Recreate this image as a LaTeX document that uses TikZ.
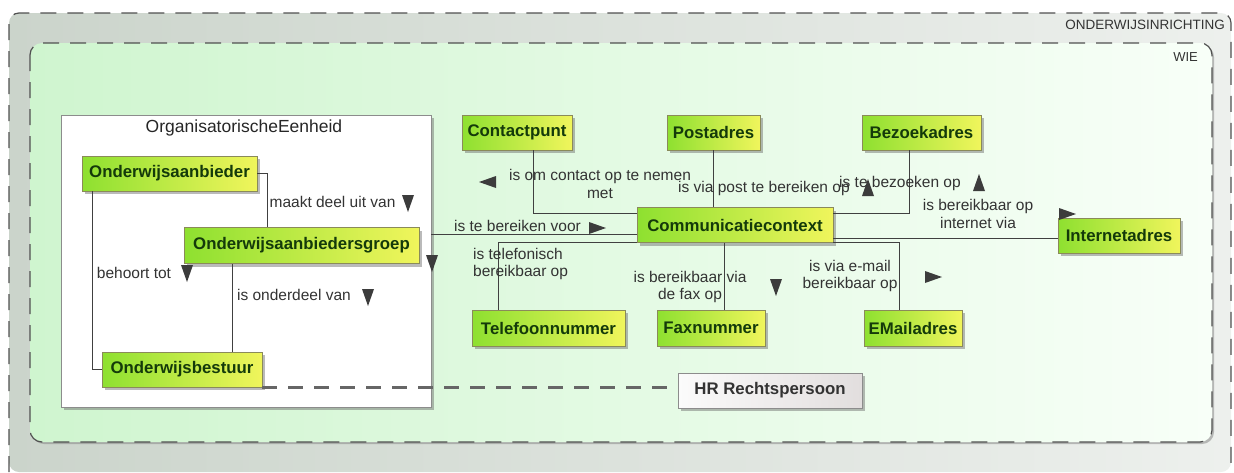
\documentclass[tikz,border=0pt]{standalone}
\usepackage{fontspec}
\setmainfont{Liberation Sans}
\usetikzlibrary{shadows}
\definecolor{boxL}{HTML}{8EE030}
\definecolor{boxR}{HTML}{F0F55C}
\definecolor{boxedge}{HTML}{8A8A5A}
\definecolor{boxtxt}{HTML}{143A0A}
\definecolor{lbltxt}{HTML}{333333}
\definecolor{lncol}{HTML}{404040}
\definecolor{tricol}{HTML}{3C3C3C}
\definecolor{outerL}{HTML}{CBD4CB}
\definecolor{outerR}{HTML}{EDF0ED}
\definecolor{innerL}{HTML}{CFF5CF}
\definecolor{innerR}{HTML}{F8FFF8}
\definecolor{framecol}{HTML}{505050}
\definecolor{hrL}{HTML}{FBFBFB}
\definecolor{hrR}{HTML}{E2DEDE}
\tikzset{
  cls/.style={draw=boxedge, line width=0.6pt, left color=boxL, right color=boxR,
    text=boxtxt, font=\fontsize{16.8}{19}\selectfont\bfseries, inner sep=0pt,
    drop shadow={shadow xshift=3pt, shadow yshift=-3pt, opacity=0.45, fill=black!60}},
  hrbox/.style={draw=black!45, line width=0.6pt, left color=hrL, right color=hrR,
    text=lbltxt, font=\fontsize{16.8}{19}\selectfont\bfseries, inner sep=0pt,
    drop shadow={shadow xshift=3pt, shadow yshift=-3pt, opacity=0.45, fill=black!60}},
  lbl/.style={text=lbltxt, font=\fontsize{15.5}{17.5}\selectfont, inner sep=0pt},
  conn/.style={draw=lncol, line width=0.9pt},
  framestyle/.style={draw=framecol, line width=1.2pt, dash pattern=on 16pt off 11pt},
  tdown/.pic={\fill[tricol] (-6,-8) -- (6,-8) -- (0,9) -- cycle;},
  tup/.pic={\fill[tricol] (-6,8) -- (6,8) -- (0,-9) -- cycle;},
  tright/.pic={\fill[tricol] (-8,-6) -- (-8,6) -- (9,0) -- cycle;},
  tleft/.pic={\fill[tricol] (8,-6) -- (8,6) -- (-9,0) -- cycle;},
}
\begin{document}
\begin{tikzpicture}[x=1pt,y=-1pt]
\useasboundingbox (0,0) rectangle (1234,472);
\fill[white] (0,0) rectangle (1234,472);
% outer frame
\path[left color=outerL, right color=outerR, rounded corners=10pt] (9,13) rectangle (1231,472);
\draw[framestyle, rounded corners=10pt] (9,472) -- (9,13) -- (1231,13) -- (1231,472);
\node[lbl, anchor=east, font=\fontsize{13.5}{16}\selectfont] (londer) at (1225,25) {ONDERWIJSINRICHTING};
% inner frame
\path[left color=innerL, right color=innerR, rounded corners=12pt,
  drop shadow={shadow xshift=2pt, shadow yshift=-2pt, opacity=0.5, fill=black!50}] (30,43) rectangle (1212,442);
\draw[framestyle, rounded corners=12pt] (30,43) rectangle (1212,442);
\node[lbl, anchor=east, font=\fontsize{13}{15}\selectfont] (lwie) at (1198,57) {WIE};
% OrganisatorischeEenheid box
\node[draw=black!45, fill=white, line width=0.6pt, minimum width=370pt, minimum height=292pt, inner sep=0pt,
  drop shadow={shadow xshift=3pt, shadow yshift=-3pt, opacity=0.45, fill=black!60}] (OE) at (246,261) {};
\node[lbl, font=\fontsize{17.5}{20}\selectfont, text=black!85] (OEt) at (244,128) {OrganisatorischeEenheid};
% class boxes
\node[cls, minimum width=175pt, minimum height=35pt] (OA) at (169.5,173.5) {Onderwijsaanbieder};
\node[cls, minimum width=235pt, minimum height=36pt] (OAG) at (301.5,245.5) {Onderwijsaanbiedersgroep};
\node[cls, minimum width=160pt, minimum height=35pt] (OB) at (182,369.5) {Onderwijsbestuur};
\node[cls, minimum width=110pt, minimum height=35pt] (CP) at (517,132.5) {Contactpunt};
\node[cls, minimum width=93pt, minimum height=35pt] (PA) at (713.5,132.5) {Postadres};
\node[cls, minimum width=119pt, minimum height=35pt] (BA) at (921.5,132.5) {Bezoekadres};
\node[cls, minimum width=196pt, minimum height=35pt] (CC) at (735,225) {Communicatiecontext};
\node[cls, minimum width=122pt, minimum height=35pt] (IA) at (1119,235.5) {Internetadres};
\node[cls, minimum width=153pt, minimum height=36pt] (TN) at (548.5,328) {Telefoonnummer};
\node[cls, minimum width=108pt, minimum height=36pt] (FN) at (711,328) {Faxnummer};
\node[cls, minimum width=98pt, minimum height=36pt] (EM) at (913,328) {EMailadres};
\node[hrbox, minimum width=184pt, minimum height=35pt] (HR) at (770,390.5) {HR Rechtspersoon};
% connectors
\draw[conn] (OA.east) -| ([xshift=-34.5pt]OAG.north);
\draw[conn] ([xshift=-77.5pt]OA.south) |- (OB.west);
\draw[conn] ([xshift=-69.5pt]OAG.south) -- ([xshift=50pt]OB.north);
\draw[conn] ([yshift=-9pt]CC.west) -- ([yshift=-9pt]CC.west -| OE.east);
\draw[conn] ([xshift=16pt]CP.south) |- ([yshift=12pt]CC.west);
\draw[conn] (PA.south) -- (PA.south |- CC.north);
\draw[conn] ([xshift=-12.5pt]BA.south) |- ([yshift=12pt]CC.east);
\draw[conn] ([yshift=-13pt]CC.east) -- ([yshift=-13pt]CC.east -| IA.west);
\draw[conn] ([yshift=-17pt]CC.west) -| ([xshift=-50.5pt]TN.north);
\draw[conn] ([xshift=-11pt]CC.south) -- ([xshift=13pt]FN.north);
\draw[conn] ([yshift=-17pt]CC.east) -| ([xshift=-14pt]EM.north);
\draw[draw=black!60, line width=3pt, dash pattern=on 15pt off 11pt] (OB.south east) -- (OB.south east -| HR.west);
% labels
\node[lbl] (l1) at (332.5,202) {maakt deel uit van};
\pic (t1) at (408,203) {tdown};
\node[lbl] (l2) at (134,273) {behoort tot};
\pic (t2) at (187,273) {tdown};
\node[lbl] (l3) at (294,295) {is onderdeel van};
\pic (t3) at (368,297) {tdown};
\node[lbl] (l4) at (517.5,226) {is te bereiken voor};
\pic (t4) at (597,228) {tright};
\pic (t4b) at (432,263) {tdown};
\node[lbl, align=center] (l5) at (600,184) {is om contact op te nemen\\met};
\pic (t5) at (488,182) {tleft};
\node[lbl, anchor=west] (l6) at (678,188) {is via post te bereiken op};
\pic (t6) at (868,188) {tup};
\node[lbl, anchor=west] (l7) at (839,183) {is te bezoeken op};
\pic (t7) at (979,183) {tup};
\node[lbl, align=center] (l8) at (978,214) {is bereikbaar op\\internet via};
\pic (t8) at (1067,214) {tright};
\node[lbl, align=left, anchor=west] (l9) at (473,264) {is telefonisch\\bereikbaar op};
\node[lbl, align=center] (l10) at (690,287) {is bereikbaar via\\de fax op};
\pic (t10) at (776,287) {tdown};
\node[lbl, align=center] (l11) at (850,276) {is via e-mail\\bereikbaar op};
\pic (t11) at (933,277) {tright};
\end{tikzpicture}
\end{document}
